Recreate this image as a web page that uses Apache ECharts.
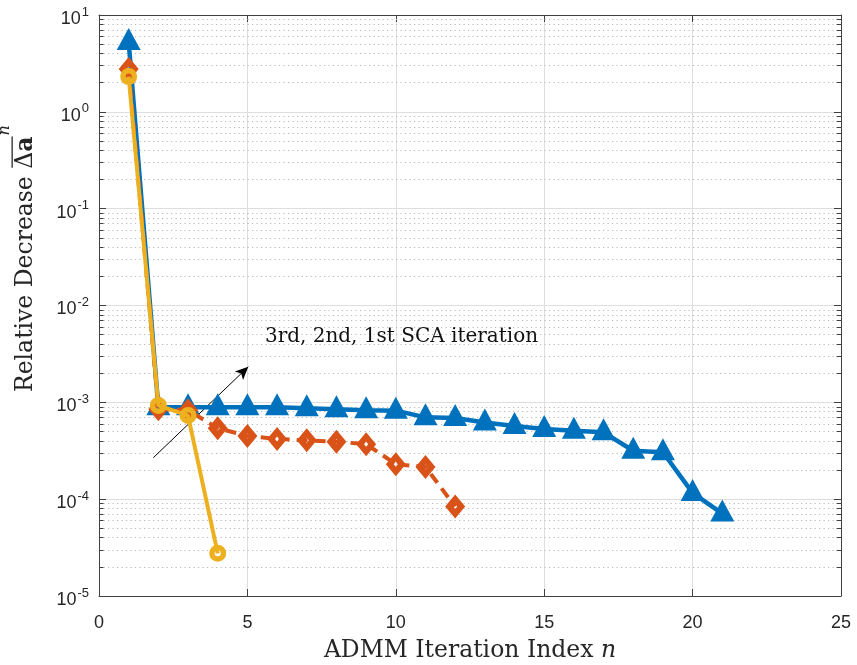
<!DOCTYPE html>
<html>
<head>
<meta charset="utf-8">
<script src="https://cdn.jsdelivr.net/npm/echarts@6/dist/echarts.min.js"></script>
<style>
  html, body { margin: 0; padding: 0; background: #fff; }
  #chart { width: 857px; height: 665px; }
</style>
</head>
<body>
<div id="chart"></div>
<script>
// ADMM iteration index for each SCA pass
const iterSCA1 = [1, 2, 3, 4, 5, 6, 7, 8, 9, 10, 11, 12, 13, 14, 15, 16, 17, 18, 19, 20, 21];
const iterSCA2 = [1, 2, 3, 4, 5, 6, 7, 8, 9, 10, 11, 12];
const iterSCA3 = [1, 2, 3, 4];

// Relative decrease per ADMM iteration
const decreaseSCA1 = [5.26, 8.9e-4, 8.9e-4, 8.9e-4, 8.9e-4, 8.9e-4, 8.7e-4, 8.5e-4, 8.3e-4, 8.2e-4,
                      7.0e-4, 6.9e-4, 6.2e-4, 5.7e-4, 5.3e-4, 5.1e-4, 4.9e-4, 3.16e-4, 3.05e-4, 1.16e-4, 7.1e-5];
const decreaseSCA2 = [2.77, 8.5e-4, 8.3e-4, 5.4e-4, 4.5e-4, 4.18e-4, 4.05e-4, 3.92e-4, 3.7e-4, 2.3e-4, 2.15e-4, 8.4e-5];
const decreaseSCA3 = [2.31, 9.3e-4, 7.3e-4, 2.76e-5];

// Axis settings
const xTicks = [0, 5, 10, 15, 20, 25];
const yDecades = [1e-5, 1e-4, 1e-3, 1e-2, 1e-1, 1, 10];

// Annotation: arrow start/end and caption anchor (data coordinates)
const arrowFrom = [1.83, 2.68e-4];
const arrowTo = [5.03, 2.33e-3];
const captionAt = [5.59, 4.73e-3];
const captionText = '3rd, 2nd, 1st SCA iteration';

const C_BLUE = '#0072BD', C_ORANGE = '#D95319', C_YELLOW = '#EDB120';
const AXIS_COLOR = '#404040', TEXT_COLOR = '#262626';
const SERIF = '"DejaVu Serif", "Liberation Serif", serif';
const SANS = '"Liberation Sans", Arial, sans-serif';

// thick-outlined open markers: outer outline with a small hole (opposite winding)
const RING = 'path://M0,-10A10,10 0 1,1 0,10A10,10 0 1,1 0,-10Z M0,-3.6A3.6,3.6 0 1,0 0,3.6A3.6,3.6 0 1,0 0,-3.6Z';
const OPEN_DIAMOND = 'path://M0,-12L10,0L0,12L-10,0Z M0,-2.6L-2,0L0,2.6L2,0Z';

const pairs = (xs, ys) => xs.map((x, i) => [x, ys[i]]);

// minor log grid values 2..9 x 10^d
const minorVals = [];
for (let i = 0; i < yDecades.length - 1; i++) {
  for (let k = 2; k <= 9; k++) minorVals.push(k * yDecades[i]);
}
const xMin = xTicks[0], xMax = xTicks[xTicks.length - 1];

const chart = echarts.init(document.getElementById('chart'), null, { renderer: 'canvas' });

const yLabel = {
  show: true,
  margin: 10,
  formatter: v => '{b|10}{s|' + Math.round(Math.log10(v)) + '}',
  rich: {
    b: { fontSize: 18, fontFamily: SANS, color: TEXT_COLOR, padding: [8, 0, 0, 0] },
    s: { fontSize: 13, fontFamily: SANS, color: TEXT_COLOR, padding: [0, 0, 6, 1] }
  }
};

const boxAxis = {
  axisLine: { show: true, onZero: false, lineStyle: { color: AXIS_COLOR, width: 1 } },
  axisTick: { show: true, inside: true, length: 7, lineStyle: { color: AXIS_COLOR } }
};

const option = {
  animation: false,
  backgroundColor: '#fff',
  grid: { left: 99, right: 16, top: 15, bottom: 69, containLabel: false, outerBoundsMode: 'none' },
  xAxis: [
    Object.assign({
      type: 'value', min: xMin, max: xMax, interval: 5, position: 'bottom',
      axisLabel: { margin: 18, fontSize: 18, fontFamily: SANS, color: TEXT_COLOR },
      splitLine: { show: true, lineStyle: { color: '#dedede', width: 1 } },
      name: '{r|ADMM Iteration Index }{i|n}',
      nameLocation: 'middle', nameGap: 43,
      nameTextStyle: {
        rich: {
          r: { fontSize: 23.5, fontFamily: SERIF, color: TEXT_COLOR },
          i: { fontSize: 23.5, fontFamily: SERIF, fontStyle: 'italic', color: TEXT_COLOR }
        }
      }
    }, boxAxis),
    Object.assign({
      type: 'value', min: xMin, max: xMax, interval: 5, position: 'top',
      axisLabel: { show: false }, splitLine: { show: false }
    }, boxAxis)
  ],
  yAxis: [
    Object.assign({
      type: 'log', logBase: 10, min: yDecades[0], max: yDecades[yDecades.length - 1], position: 'left',
      axisLabel: yLabel,
      splitLine: { show: true, lineStyle: { color: '#dedede', width: 1 } }
    }, boxAxis),
    Object.assign({
      type: 'log', logBase: 10, min: yDecades[0], max: yDecades[yDecades.length - 1], position: 'right',
      axisLabel: { show: false }, splitLine: { show: false }
    }, boxAxis)
  ],
  series: [
    {
      // dotted minor grid of the log axis
      type: 'lines', coordinateSystem: 'cartesian2d', silent: true, z: 1,
      lineStyle: { color: '#b8b8b8', width: 1, type: [1.2, 3.3], opacity: 1 },
      data: minorVals.map(v => ({ coords: [[xMin, v], [xMax, v]] }))
    },
    {
      // minor ticks on left and right box edges
      type: 'lines', coordinateSystem: 'cartesian2d', silent: true, z: 2,
      lineStyle: { color: AXIS_COLOR, width: 1, opacity: 1 },
      data: minorVals.map(v => ({ coords: [[xMin, v], [xMin + 0.15, v]] }))
        .concat(minorVals.map(v => ({ coords: [[xMax - 0.15, v], [xMax, v]] })))
    },
    {
      name: '1st SCA iteration', type: 'line', z: 5,
      data: pairs(iterSCA1, decreaseSCA1),
      lineStyle: { color: C_BLUE, width: 4.5 },
      itemStyle: { color: C_BLUE },
      symbol: 'triangle', symbolSize: [24, 22], symbolOffset: [0, -3],
      showSymbol: true
    },
    {
      name: '2nd SCA iteration', type: 'line', z: 6,
      data: pairs(iterSCA2, decreaseSCA2),
      lineStyle: { color: C_ORANGE, width: 4, type: [11, 7] },
      itemStyle: { color: C_ORANGE },
      symbol: OPEN_DIAMOND, symbolSize: [20, 24],
      showSymbol: true
    },
    {
      name: '3rd SCA iteration', type: 'line', z: 7,
      data: pairs(iterSCA3, decreaseSCA3),
      lineStyle: { color: C_YELLOW, width: 4 },
      itemStyle: { color: C_YELLOW },
      symbol: RING, symbolSize: 17,
      showSymbol: true
    },
    {
      type: 'line', data: [], silent: true, z: 8,
      markLine: {
        silent: true, animation: false,
        symbol: ['none', 'arrow'], symbolSize: [9, 13],
        label: { show: false },
        lineStyle: { color: '#000', width: 1, type: 'solid' },
        data: [[{ coord: arrowFrom }, { coord: arrowTo }]]
      },
      markPoint: {
        silent: true, animation: false,
        symbol: 'circle', symbolSize: 0,
        label: {
          show: true, position: 'right', distance: 0,
          formatter: captionText,
          fontFamily: SERIF, fontSize: 20, color: '#111'
        },
        data: [{ coord: captionAt }]
      }
    }
  ]
};

chart.setOption(option);

// y-axis title: "Relative Decrease" followed by an overlined Δa with superscript n
(function drawYTitle() {
  const ctx = document.createElement('canvas').getContext('2d');
  const fs = 23.5;
  const fMain = fs + 'px ' + SERIF;
  const fBold = 'bold ' + fs + 'px ' + SERIF;
  const fSup = 'italic 16px ' + SERIF;
  ctx.font = fMain;
  const w1 = ctx.measureText('Relative Decrease ').width;
  const wD = ctx.measureText('\u0394').width;
  ctx.font = fBold;
  const wA = ctx.measureText('a').width;
  const barY = -fs * 1.1;
  chart.setOption({
    graphic: [{
      type: 'group', x: 38, y: 392, rotation: Math.PI / 2,
      children: [
        { type: 'text', x: 0, y: 0, style: { text: 'Relative Decrease ', font: fMain, fill: TEXT_COLOR, textVerticalAlign: 'bottom' } },
        { type: 'text', x: w1, y: 0, style: { text: '\u0394', font: fMain, fill: TEXT_COLOR, textVerticalAlign: 'bottom' } },
        { type: 'text', x: w1 + wD, y: 0, style: { text: 'a', font: fBold, fill: TEXT_COLOR, textVerticalAlign: 'bottom' } },
        { type: 'line', shape: { x1: w1 + 1, y1: barY, x2: w1 + wD + wA, y2: barY }, style: { stroke: TEXT_COLOR, lineWidth: 1.3 } },
        { type: 'text', x: w1 + wD + wA + 1, y: barY + 1, style: { text: 'n', font: fSup, fill: TEXT_COLOR, textVerticalAlign: 'bottom' } }
      ]
    }]
  });
})();
</script>
</body>
</html>
